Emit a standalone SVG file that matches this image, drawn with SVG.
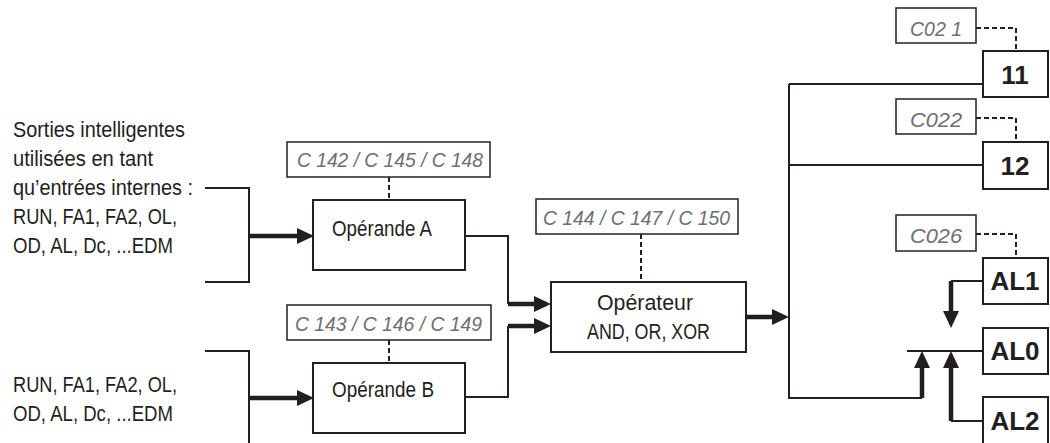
<svg xmlns="http://www.w3.org/2000/svg" width="1050" height="443" viewBox="0 0 1050 443">
<style>
.bg{fill:#ffffff}
.box{fill:#ffffff;stroke:#231f20;stroke-width:2}
.pbox{fill:#ffffff;stroke:#231f20;stroke-width:1.5}
.ln{fill:none;stroke:#231f20;stroke-width:2}
.thk{fill:none;stroke:#231f20;stroke-width:4.5}
.dash{fill:none;stroke:#231f20;stroke-width:2;stroke-dasharray:5,3}
.t{font-family:"Liberation Sans Narrow","Liberation Sans",Arial,sans-serif;font-size:22px;fill:#231f20}
.p{font-family:"Liberation Sans Narrow","Liberation Sans",Arial,sans-serif;font-size:21px;fill:#6d6e71;font-style:italic}
.b{font-family:"Liberation Sans",Arial,sans-serif;font-size:26px;font-weight:bold;fill:#231f20;text-anchor:middle}
</style>
<defs>
<marker id="ah" markerUnits="userSpaceOnUse" markerWidth="17" markerHeight="16" refX="0" refY="8" orient="auto">
<path d="M0,0 L17,8 L0,16 Z" fill="#231f20"/>
</marker>
</defs>
<rect class="bg" x="0" y="0" width="1050" height="443"/>

<g id="inputs-text-1">
<text class="t" x="13" y="137" textLength="172" lengthAdjust="spacingAndGlyphs">Sorties intelligentes</text>
<text class="t" x="13" y="166" textLength="140" lengthAdjust="spacingAndGlyphs">utilisées en tant</text>
<text class="t" x="13" y="195" textLength="180" lengthAdjust="spacingAndGlyphs">qu’entrées internes :</text>
<text class="t" x="13" y="224" textLength="164" lengthAdjust="spacingAndGlyphs">RUN, FA1, FA2, OL,</text>
<text class="t" x="13" y="253" textLength="160" lengthAdjust="spacingAndGlyphs">OD, AL, Dc, ...EDM</text>
</g>
<g id="inputs-text-2">
<text class="t" x="13" y="392" textLength="164" lengthAdjust="spacingAndGlyphs">RUN, FA1, FA2, OL,</text>
<text class="t" x="13" y="421" textLength="160" lengthAdjust="spacingAndGlyphs">OD, AL, Dc, ...EDM</text>
</g>

<g id="connectors">
<path class="ln" d="M205,188 H249 V282 H205"/>
<path class="thk" d="M249,236 H297" marker-end="url(#ah)"/>
<path class="ln" d="M205,351 H249 V443"/>
<path class="thk" d="M249,398 H297" marker-end="url(#ah)"/>
<path class="ln" d="M465,236 H508 V304"/>
<path class="thk" d="M508,304 H534" marker-end="url(#ah)"/>
<path class="ln" d="M465,397 H508 V326"/>
<path class="thk" d="M508,326 H534" marker-end="url(#ah)"/>
<path class="thk" d="M747,317 H772" marker-end="url(#ah)"/>
<path class="ln" d="M789,84 H983"/>
<path class="ln" d="M789,165 H983"/>
<path class="ln" d="M789,84 V398 H922"/>
<path class="thk" d="M922,398 V368" marker-end="url(#ah)"/>
<path class="ln" d="M907,351 H983"/>
<path class="ln" d="M983,281 H951"/>
<path class="thk" d="M951,281 V311" marker-end="url(#ah)"/>
<path class="ln" d="M983,421 H951"/>
<path class="thk" d="M951,421 V368" marker-end="url(#ah)"/>
<path class="dash" d="M389,177 V200"/>
<path class="dash" d="M389,340 V363"/>
<path class="dash" d="M641,234 V282"/>
<path class="dash" d="M976,28 H1016 V51"/>
<path class="dash" d="M976,118 H1016 V142"/>
<path class="dash" d="M976,234 H1016 V258"/>
</g>

<g id="param-a">
<rect class="pbox" x="287" y="142" width="203" height="35"/>
<text class="p" x="297" y="167" textLength="186" lengthAdjust="spacingAndGlyphs">C 142 / C 145 / C 148</text>
</g>
<g id="operande-a">
<rect class="box" x="313" y="200" width="152" height="70"/>
<text class="t" x="332" y="236" textLength="100" lengthAdjust="spacingAndGlyphs">Opérande A</text>
</g>
<g id="param-b">
<rect class="pbox" x="287" y="305" width="204" height="35"/>
<text class="p" x="295" y="331" textLength="187" lengthAdjust="spacingAndGlyphs">C 143 / C 146 / C 149</text>
</g>
<g id="operande-b">
<rect class="box" x="313" y="363" width="152" height="70"/>
<text class="t" x="332" y="397" textLength="102" lengthAdjust="spacingAndGlyphs">Opérande B</text>
</g>
<g id="param-op">
<rect class="pbox" x="536" y="199" width="202" height="35"/>
<text class="p" x="543" y="225" textLength="187" lengthAdjust="spacingAndGlyphs">C 144 / C 147 / C 150</text>
</g>
<g id="operateur">
<rect class="box" x="551" y="282" width="195" height="70"/>
<text class="t" x="597" y="310" textLength="96" lengthAdjust="spacingAndGlyphs">Opérateur</text>
<text class="t" x="587" y="339" textLength="123" lengthAdjust="spacingAndGlyphs">AND, OR, XOR</text>
</g>
<g id="param-c021">
<rect class="pbox" x="896" y="8" width="80" height="35"/>
<text class="p" x="910" y="36" textLength="52" lengthAdjust="spacingAndGlyphs">C02 1</text>
</g>
<g id="out-11">
<rect class="box" x="983" y="51" width="65" height="46"/>
<text class="b" x="1015" y="84">11</text>
</g>
<g id="param-c022">
<rect class="pbox" x="896" y="99" width="80" height="35"/>
<text class="p" x="910" y="127" textLength="52" lengthAdjust="spacingAndGlyphs">C022</text>
</g>
<g id="out-12">
<rect class="box" x="983" y="142" width="65" height="47"/>
<text class="b" x="1015" y="175">12</text>
</g>
<g id="param-c026">
<rect class="pbox" x="896" y="215" width="80" height="36"/>
<text class="p" x="910" y="243" textLength="52" lengthAdjust="spacingAndGlyphs">C026</text>
</g>
<g id="al1">
<rect class="box" x="983" y="258" width="65" height="46"/>
<text class="b" x="1015" y="290">AL1</text>
</g>
<g id="al0">
<rect class="box" x="983" y="328" width="65" height="46"/>
<text class="b" x="1015" y="360">AL0</text>
</g>
<g id="al2">
<rect class="box" x="983" y="397" width="65" height="50"/>
<text class="b" x="1015" y="430">AL2</text>
</g>
</svg>
